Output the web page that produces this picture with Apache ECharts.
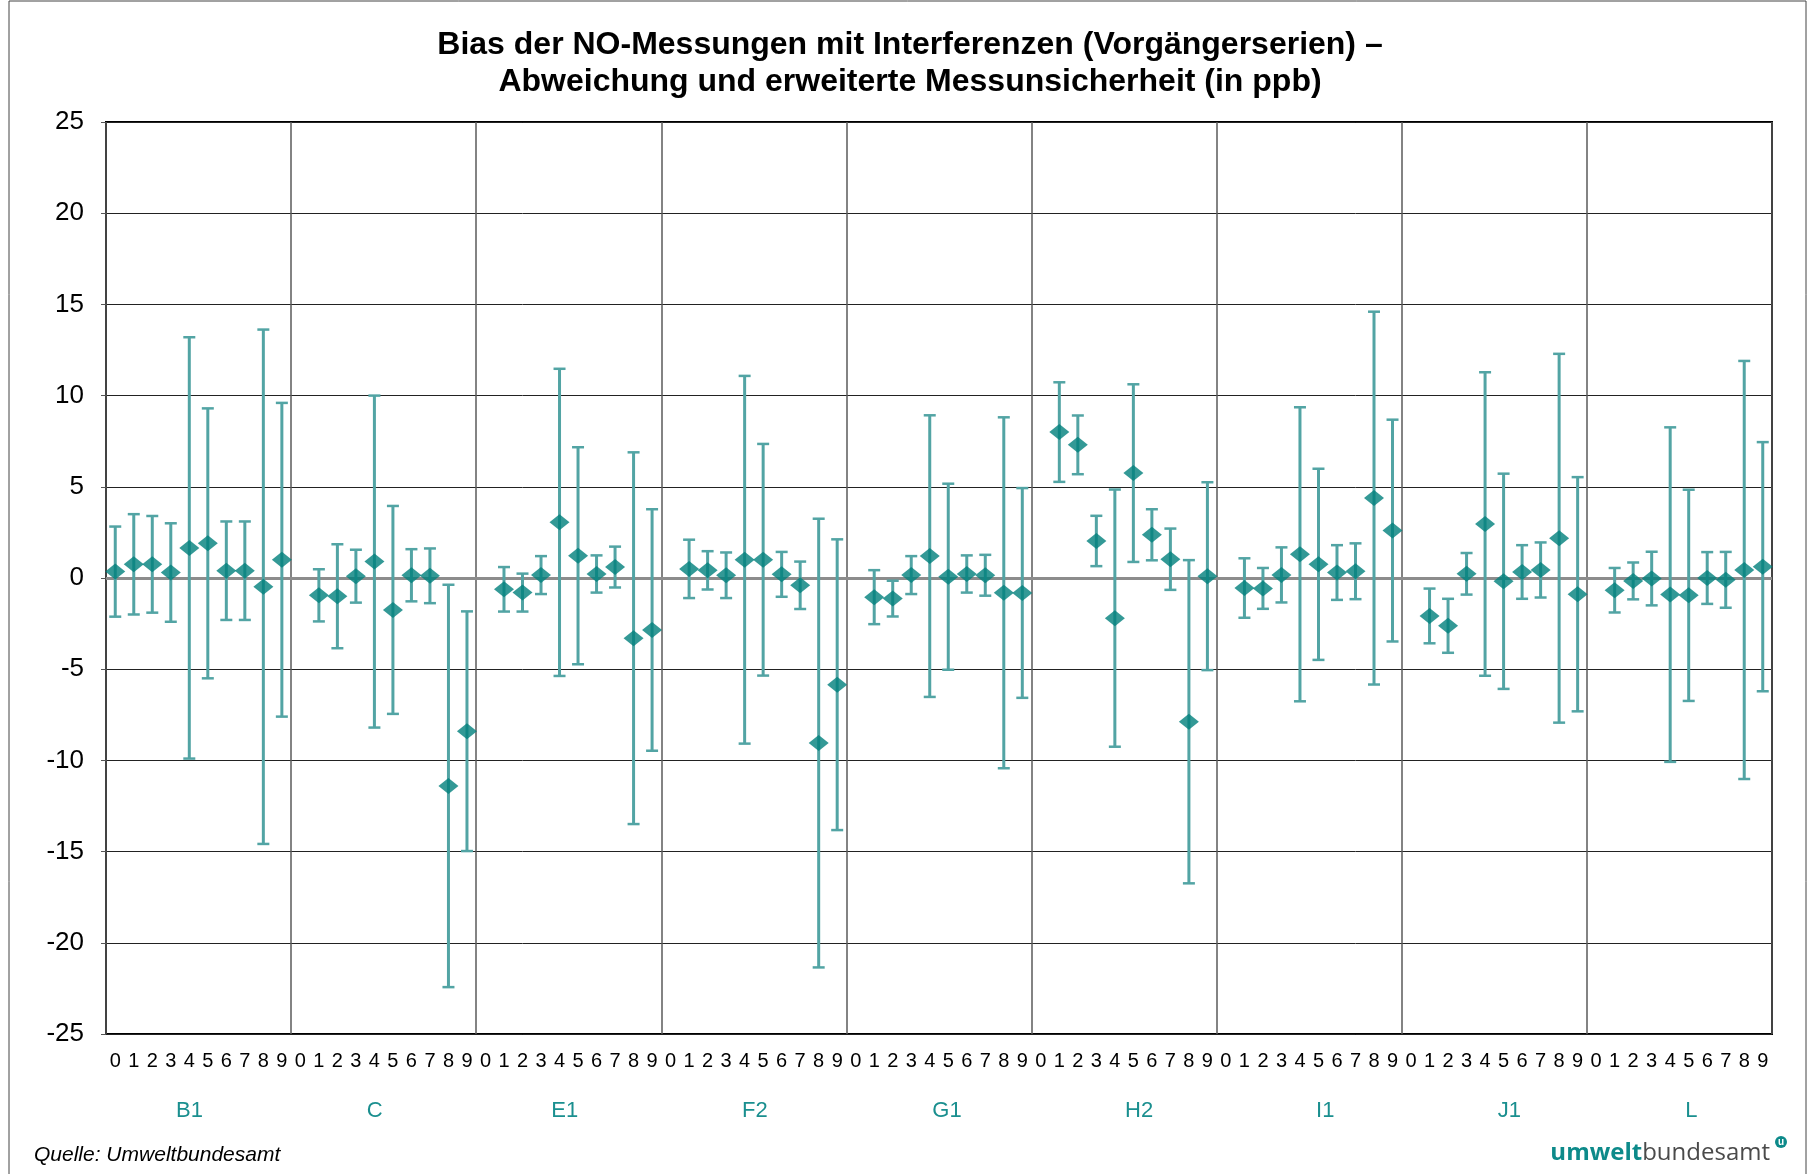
<!DOCTYPE html>
<html>
<head>
<meta charset="utf-8">
<title>Bias der NO-Messungen</title>
<script src="https://cdn.jsdelivr.net/npm/echarts@6/dist/echarts.min.js"></script>
<style>
  html, body { margin: 0; padding: 0; background: #fff; }
  #chart { width: 1820px; height: 1174px; }
</style>
</head>
<body>
<div id="chart"></div>
<script>
// Gruppen (Vorgängerserien) und Messnummern je Gruppe
const groups = ['B1', 'C', 'E1', 'F2', 'G1', 'H2', 'I1', 'J1', 'L']
const digits = ['0', '1', '2', '3', '4', '5', '6', '7', '8', '9']

// Abweichung (Bias) in ppb, je Gruppe 10 Werte (null = keine Messung)
const biasB1 = [0.35, 0.75, 0.75, 0.3, 1.65, 1.9, 0.4, 0.4, -0.48, 1.0]
const biasC  = [null, -0.95, -1.0, 0.1, 0.9, -1.75, 0.15, 0.12, -11.4, -8.4]
const biasE1 = [null, -0.62, -0.8, 0.16, 3.05, 1.22, 0.22, 0.6, -3.3, -2.85]
const biasF2 = [null, 0.5, 0.42, 0.15, 1.0, 1.0, 0.2, -0.4, -9.05, -5.85]
const biasG1 = [null, -1.05, -1.13, 0.16, 1.2, 0.07, 0.22, 0.15, -0.81, -0.82]
const biasH2 = [null, 8.0, 7.3, 2.03, -2.2, 5.75, 2.37, 1.03, -7.88, 0.1]
const biasI1 = [null, -0.55, -0.57, 0.17, 1.3, 0.75, 0.3, 0.37, 4.38, 2.6]
const biasJ1 = [null, -2.08, -2.62, 0.23, 2.96, -0.18, 0.33, 0.44, 2.18, -0.89]
const biasL  = [null, -0.67, -0.16, -0.03, -0.91, -0.95, 0.0, -0.1, 0.44, 0.62]

// erweiterte Messunsicherheit U in ppb
const uncB1 = [2.47, 2.75, 2.65, 2.7, 11.55, 7.4, 2.7, 2.7, 14.1, 8.6]
const uncC  = [null, 1.43, 2.85, 1.45, 9.1, 5.7, 1.43, 1.5, 11.03, 6.57]
const uncE1 = [null, 1.22, 1.04, 1.04, 8.42, 5.95, 1.02, 1.12, 10.19, 6.62]
const uncF2 = [null, 1.6, 1.05, 1.25, 10.08, 6.35, 1.23, 1.3, 12.3, 7.97]
const uncG1 = [null, 1.48, 0.98, 1.04, 7.72, 5.1, 1.02, 1.12, 9.62, 5.75]
const uncH2 = [null, 2.73, 1.61, 1.38, 7.05, 4.87, 1.4, 1.68, 8.86, 5.15]
const uncI1 = [null, 1.63, 1.12, 1.51, 8.06, 5.24, 1.5, 1.53, 10.22, 6.08]
const uncJ1 = [null, 1.5, 1.48, 1.14, 8.32, 5.9, 1.47, 1.51, 10.11, 6.42]
const uncL  = [null, 1.22, 1.01, 1.47, 9.17, 5.79, 1.42, 1.53, 11.46, 6.83]

const yTicks = [-25, -20, -15, -10, -5, 0, 5, 10, 15, 20, 25]

// Gruppenbeschriftungen stehen im Original nicht genau mittig (Verschiebung in px)
const groupLabelShift = [-9, -9, -4, 1, 8, 15, 16, 15, 12]

const biasAll = [biasB1, biasC, biasE1, biasF2, biasG1, biasH2, biasI1, biasJ1, biasL].flat()
const uncAll = [uncB1, uncC, uncE1, uncF2, uncG1, uncH2, uncI1, uncJ1, uncL].flat()
const categories = groups.flatMap(g => digits.map(d => g + '-' + d))

const font = 'Liberation Sans, Arial, sans-serif'
const teal = '#007f7c'
const barColor = '#52a4a4'
const labelTeal = '#1a8f8f'

const pointData = []
const errorData = []
biasAll.forEach((b, i) => {
  if (b === null) return
  pointData.push([i, b])
  errorData.push([i, b - uncAll[i], b + uncAll[i]])
})

const chart = echarts.init(document.getElementById('chart'))

// Gruppenlabels über rich-text Padding leicht verschieben
const groupRich = {}
groupLabelShift.forEach((s, i) => {
  groupRich['g' + i] = {
    fontFamily: font,
    fontSize: 22,
    color: labelTeal,
    padding: s >= 0 ? [0, 0, 0, 2 * s] : [0, -2 * s, 0, 0]
  }
})

chart.setOption({
  animation: false,
  backgroundColor: '#fff',
  title: {
    text: 'Bias der NO-Messungen mit Interferenzen (Vorgängerserien) –\nAbweichung und erweiterte Messunsicherheit (in ppb)',
    left: 'center',
    top: 22,
    textStyle: {
      fontFamily: font,
      fontSize: 32,
      fontWeight: 'bold',
      color: '#000',
      lineHeight: 37
    }
  },
  grid: {
    left: 106,
    right: 48,
    top: 122,
    bottom: 140,
    show: true,
    borderColor: '#000',
    borderWidth: 2
  },
  xAxis: [
    {
      type: 'category',
      data: categories,
      boundaryGap: true,
      axisLine: { show: false },
      axisTick: { show: false },
      axisLabel: {
        interval: 0,
        margin: 17,
        fontFamily: font,
        fontSize: 20,
        color: '#000',
        formatter: v => v.split('-')[1]
      },
      splitLine: { show: false }
    },
    {
      type: 'category',
      data: groups,
      position: 'bottom',
      offset: 62,
      boundaryGap: true,
      axisLine: { show: false },
      axisTick: { show: false },
      axisLabel: {
        interval: 0,
        margin: 4,
        formatter: (v, i) => '{g' + i + '|' + v + '}',
        rich: groupRich
      },
      splitLine: {
        show: true,
        interval: 0,
        lineStyle: { color: '#5a5a5a', width: 1.5 }
      }
    }
  ],
  yAxis: {
    type: 'value',
    min: yTicks[0],
    max: yTicks[yTicks.length - 1],
    interval: 5,
    axisLine: { show: false },
    axisTick: { show: true, length: 5, lineStyle: { color: '#555' } },
    axisLabel: {
      margin: 22,
      fontFamily: font,
      fontSize: 26,
      color: '#000'
    },
    splitLine: { lineStyle: { color: '#222', width: 1 } }
  },
  series: [
    {
      type: 'custom',
      xAxisIndex: 0,
      data: errorData,
      z: 3,
      renderItem: (params, api) => {
        const lo = api.coord([api.value(0), api.value(1)])
        const hi = api.coord([api.value(0), api.value(2)])
        const x = lo[0]
        const cap = 6
        const style = { stroke: barColor, lineWidth: 3 }
        const capStyle = { stroke: barColor, lineWidth: 2.5 }
        return {
          type: 'group',
          children: [
            { type: 'line', shape: { x1: x, y1: lo[1], x2: x, y2: hi[1] }, style },
            { type: 'line', shape: { x1: x - cap, y1: hi[1], x2: x + cap, y2: hi[1] }, style: capStyle },
            { type: 'line', shape: { x1: x - cap, y1: lo[1], x2: x + cap, y2: lo[1] }, style: capStyle }
          ]
        }
      }
    },
    {
      type: 'scatter',
      xAxisIndex: 0,
      data: pointData,
      symbol: 'diamond',
      symbolSize: [20, 16],
      itemStyle: { color: teal },
      z: 4,
      markLine: {
        silent: true,
        symbol: 'none',
        label: { show: false },
        lineStyle: { color: '#8c8c8c', width: 3, type: 'solid' },
        data: [{ yAxis: 0 }],
        z: 2
      }
    }
  ],
  graphic: [
    {
      type: 'rect',
      shape: { x: 9, y: 1, width: 1797, height: 1200 },
      style: { fill: 'none', stroke: '#444', lineWidth: 1 },
      silent: true
    },
    {
      type: 'text',
      left: 34,
      top: 1145,
      style: {
        text: 'Quelle: Umweltbundesamt',
        fontFamily: font,
        fontSize: 21,
        fontStyle: 'italic',
        fill: '#000'
      }
    },
    {
      type: 'text',
      right: 50,
      top: 1141,
      style: {
        text: '{a|umwelt}{b|bundesamt}',
        rich: {
          a: { fontFamily: 'Open Sans, sans-serif', fontSize: 24, fontWeight: 'bold', fill: '#0d8a8a' },
          b: { fontFamily: 'Open Sans, sans-serif', fontSize: 24, fill: '#4a4a4a' }
        }
      }
    },
    {
      type: 'circle',
      shape: { cx: 1781, cy: 1142, r: 6 },
      style: { fill: '#0d8a8a' }
    },
    {
      type: 'text',
      x: 1781,
      y: 1142,
      style: {
        text: 'u',
        fontFamily: font,
        fontSize: 10,
        fontWeight: 'bold',
        fill: '#fff',
        align: 'center',
        verticalAlign: 'middle'
      }
    }
  ]
})
</script>
</body>
</html>
